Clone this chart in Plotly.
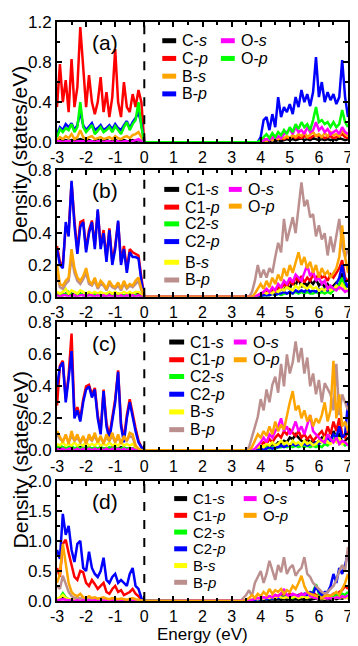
import plotly.graph_objects as go
from plotly.subplots import make_subplots

# energy grids (eV): valence side and conduction side
E_VAL = [-3.0, -2.9, -2.8, -2.7, -2.6, -2.5, -2.4, -2.3, -2.2, -2.1,
         -2.0, -1.9, -1.8, -1.7, -1.6, -1.5, -1.4, -1.3, -1.2, -1.1,
         -1.0, -0.9, -0.8, -0.7, -0.6, -0.5, -0.4, -0.3, -0.2, -0.1, 0.0]
E_COND = [3.3, 3.4, 3.5, 3.6, 3.7, 3.8, 3.9, 4.0, 4.1, 4.2,
          4.3, 4.4, 4.5, 4.6, 4.7, 4.8, 4.9, 5.0, 5.1, 5.2,
          5.3, 5.4, 5.5, 5.6, 5.7, 5.8, 5.9, 6.0, 6.1, 6.2,
          6.3, 6.4, 6.5, 6.6, 6.7, 6.8, 6.9, 7.0]

X_TICKS = [-3, -2, -1, 0, 1, 2, 3, 4, 5, 6, 7]
X_TICK_LABELS = ['-3', '-2', '-1', '0', '1', '2', '3', '4', '5', '6', '7']

# ---------------- panel (a) ----------------
A_CS_VAL = [0.01, 0.02, 0.01, 0.02, 0.01, 0.02, 0.01, 0.02, 0.03, 0.02,
            0.01, 0.02, 0.01, 0.01, 0.02, 0.01, 0.01, 0.02, 0.01, 0.01,
            0.02, 0.01, 0.01, 0.02, 0.01, 0.01, 0.02, 0.01, 0.02, 0.01, 0.0]
A_CS_COND = [0, 0, 0, 0, 0, 0, 0, 0.01, 0.01, 0.02,
             0.01, 0.02, 0.01, 0.02, 0.01, 0.02, 0.03, 0.02, 0.03, 0.02,
             0.03, 0.04, 0.02, 0.03, 0.02, 0.04, 0.03, 0.02, 0.03, 0.02,
             0.03, 0.02, 0.03, 0.02, 0.04, 0.03, 0.02, 0.03]
A_CP_VAL = [0.35, 0.78, 0.40, 0.62, 0.30, 0.83, 0.35, 0.55, 1.15, 0.70,
            0.35, 0.67, 0.40, 0.28, 0.40, 0.65, 0.30, 0.50, 0.25, 0.45,
            0.93, 0.40, 0.25, 0.60, 0.35, 0.30, 0.48, 0.35, 0.52, 0.40, 0.0]
A_CP_COND = [0, 0, 0, 0, 0, 0, 0, 0.02, 0.03, 0.02,
             0.04, 0.03, 0.05, 0.03, 0.04, 0.03, 0.05, 0.04, 0.06, 0.04,
             0.05, 0.04, 0.06, 0.05, 0.04, 0.06, 0.07, 0.05, 0.06, 0.04,
             0.05, 0.06, 0.04, 0.05, 0.06, 0.08, 0.05, 0.04]
A_BS_VAL = [0.02, 0.05, 0.03, 0.06, 0.04, 0.08, 0.03, 0.05, 0.12, 0.05,
            0.03, 0.05, 0.06, 0.03, 0.04, 0.05, 0.03, 0.04, 0.05, 0.03,
            0.06, 0.04, 0.03, 0.05, 0.06, 0.04, 0.07, 0.08, 0.10, 0.05, 0.0]
A_BS_COND = [0, 0, 0, 0, 0, 0, 0, 0.01, 0.02, 0.01,
             0.03, 0.02, 0.04, 0.03, 0.05, 0.04, 0.06, 0.04, 0.07, 0.05,
             0.08, 0.06, 0.10, 0.05, 0.08, 0.10, 0.06, 0.08, 0.05, 0.09,
             0.06, 0.10, 0.07, 0.08, 0.06, 0.12, 0.08, 0.06]
A_BP_VAL = [0.08, 0.15, 0.12, 0.18, 0.15, 0.19, 0.12, 0.17, 0.30, 0.17,
            0.12, 0.16, 0.19, 0.12, 0.14, 0.17, 0.12, 0.14, 0.17, 0.13,
            0.18, 0.14, 0.12, 0.17, 0.21, 0.14, 0.20, 0.24, 0.30, 0.18, 0.0]
A_BP_COND = [0, 0, 0, 0, 0, 0, 0, 0.05, 0.22, 0.25,
             0.12, 0.28, 0.15, 0.45, 0.25, 0.35, 0.30, 0.38, 0.28, 0.45,
             0.35, 0.52, 0.40, 0.48, 0.36, 0.50, 0.85, 0.45, 0.60, 0.40,
             0.50, 0.42, 0.48, 0.38, 0.45, 0.82, 0.45, 0.25]
A_OS_VAL = [0.01, 0.01, 0.0, 0.01, 0.01, 0.01, 0.0, 0.01, 0.01, 0.01,
            0.0, 0.01, 0.01, 0.0, 0.01, 0.01, 0.0, 0.01, 0.01, 0.0,
            0.01, 0.01, 0.0, 0.01, 0.01, 0.0, 0.01, 0.02, 0.03, 0.01, 0.0]
A_OS_COND = [0, 0, 0, 0, 0, 0, 0, 0.0, 0.02, 0.03,
             0.02, 0.05, 0.03, 0.06, 0.04, 0.08, 0.10, 0.13, 0.08, 0.15,
             0.10, 0.12, 0.08, 0.15, 0.10, 0.12, 0.20, 0.12, 0.15, 0.10,
             0.13, 0.08, 0.10, 0.12, 0.08, 0.15, 0.10, 0.08]
A_OP_VAL = [0.05, 0.13, 0.10, 0.14, 0.12, 0.18, 0.10, 0.15, 0.40, 0.15,
            0.10, 0.13, 0.17, 0.08, 0.12, 0.15, 0.10, 0.12, 0.15, 0.10,
            0.16, 0.12, 0.08, 0.15, 0.20, 0.12, 0.18, 0.22, 0.40, 0.15, 0.0]
A_OP_COND = [0, 0, 0, 0, 0, 0, 0, 0.02, 0.05, 0.08,
             0.04, 0.09, 0.05, 0.10, 0.07, 0.12, 0.08, 0.15, 0.10, 0.18,
             0.13, 0.20, 0.15, 0.18, 0.12, 0.22, 0.35, 0.20, 0.22, 0.18,
             0.20, 0.15, 0.20, 0.15, 0.18, 0.32, 0.20, 0.15]

# ---------------- panel (b) ----------------
B_C1S_VAL = [0.02, 0.01, 0.01, 0.02, 0.01, 0.02, 0.01, 0.01, 0.02, 0.01,
             0.01, 0.02, 0.01, 0.01, 0.02, 0.01, 0.01, 0.01, 0.02, 0.01,
             0.01, 0.02, 0.01, 0.01, 0.01, 0.02, 0.01, 0.01, 0.02, 0.01, 0.0]
B_C1S_COND = [0, 0, 0, 0, 0, 0, 0, 0.01, 0.02, 0.01,
              0.03, 0.02, 0.04, 0.03, 0.05, 0.04, 0.07, 0.05, 0.10, 0.07,
              0.12, 0.06, 0.09, 0.07, 0.10, 0.08, 0.11, 0.07, 0.09, 0.06,
              0.08, 0.05, 0.07, 0.09, 0.06, 0.15, 0.08, 0.06]
B_C1P_VAL = [0.32, 0.22, 0.20, 0.44, 0.41, 0.72, 0.48, 0.29, 0.47, 0.48,
             0.30, 0.42, 0.48, 0.32, 0.54, 0.32, 0.42, 0.24, 0.43, 0.22,
             0.32, 0.47, 0.22, 0.32, 0.17, 0.30, 0.28, 0.27, 0.26, 0.12, 0.0]
B_C1P_COND = [0, 0, 0, 0, 0, 0, 0, 0.01, 0.02, 0.03,
              0.02, 0.05, 0.03, 0.06, 0.05, 0.08, 0.06, 0.10, 0.08, 0.12,
              0.10, 0.13, 0.09, 0.12, 0.10, 0.14, 0.11, 0.15, 0.12, 0.13,
              0.10, 0.14, 0.12, 0.15, 0.18, 0.23, 0.12, 0.10]
B_C2S_VAL = [0.01, 0.01, 0.02, 0.01, 0.03, 0.01, 0.01, 0.01, 0.02, 0.01,
             0.01, 0.01, 0.01, 0.02, 0.01, 0.01, 0.01, 0.01, 0.01, 0.01,
             0.01, 0.01, 0.01, 0.01, 0.01, 0.01, 0.01, 0.01, 0.01, 0.0, 0.0]
B_C2S_COND = [0, 0, 0, 0, 0, 0, 0, 0.0, 0.01, 0.01,
              0.01, 0.02, 0.01, 0.02, 0.01, 0.02, 0.02, 0.03, 0.02, 0.03,
              0.02, 0.03, 0.02, 0.03, 0.02, 0.02, 0.03, 0.02, 0.03, 0.02,
              0.03, 0.02, 0.04, 0.05, 0.08, 0.12, 0.05, 0.03]
B_C2P_VAL = [0.30, 0.20, 0.18, 0.47, 0.38, 0.73, 0.45, 0.27, 0.44, 0.47,
             0.28, 0.40, 0.47, 0.30, 0.55, 0.30, 0.40, 0.22, 0.42, 0.20,
             0.30, 0.48, 0.20, 0.30, 0.15, 0.28, 0.25, 0.25, 0.24, 0.10, 0.0]
B_C2P_COND = [0, 0, 0, 0, 0, 0, 0, 0.0, 0.01, 0.01,
              0.01, 0.02, 0.01, 0.02, 0.02, 0.03, 0.02, 0.03, 0.02, 0.04,
              0.03, 0.04, 0.03, 0.05, 0.03, 0.04, 0.03, 0.05, 0.04, 0.05,
              0.04, 0.06, 0.05, 0.08, 0.12, 0.20, 0.10, 0.06]
B_BS_VAL = [0.03, 0.02, 0.03, 0.05, 0.02, 0.04, 0.03, 0.02, 0.04, 0.03,
            0.02, 0.03, 0.02, 0.03, 0.02, 0.03, 0.02, 0.02, 0.03, 0.02,
            0.03, 0.02, 0.02, 0.03, 0.02, 0.03, 0.02, 0.03, 0.03, 0.02, 0.0]
B_BS_COND = [0, 0, 0, 0, 0, 0, 0.01, 0.02, 0.03, 0.02,
             0.03, 0.02, 0.04, 0.03, 0.05, 0.04, 0.06, 0.05, 0.04, 0.07,
             0.05, 0.08, 0.06, 0.05, 0.07, 0.05, 0.06, 0.04, 0.05, 0.04,
             0.06, 0.04, 0.05, 0.07, 0.05, 0.08, 0.05, 0.04]
B_BP_VAL = [0.15, 0.06, 0.05, 0.08, 0.10, 0.25, 0.15, 0.10, 0.08, 0.11,
            0.15, 0.08, 0.07, 0.10, 0.05, 0.08, 0.07, 0.04, 0.08, 0.06,
            0.05, 0.07, 0.04, 0.08, 0.05, 0.07, 0.06, 0.08, 0.10, 0.04, 0.0]
B_BP_COND = [0, 0, 0, 0, 0.03, 0.10, 0.20, 0.12, 0.17, 0.12,
             0.18, 0.15, 0.25, 0.34, 0.28, 0.49, 0.35, 0.42, 0.50, 0.40,
             0.55, 0.72, 0.57, 0.61, 0.50, 0.52, 0.38, 0.45, 0.36, 0.40,
             0.26, 0.38, 0.28, 0.40, 0.49, 0.32, 0.25, 0.30]
B_OS_VAL = [0.01, 0.0, 0.01, 0.01, 0.0, 0.01, 0.01, 0.0, 0.01, 0.01,
            0.0, 0.01, 0.01, 0.0, 0.01, 0.0, 0.01, 0.0, 0.01, 0.0,
            0.01, 0.0, 0.01, 0.0, 0.01, 0.0, 0.01, 0.0, 0.01, 0.0, 0.0]
B_OS_COND = [0, 0, 0, 0, 0, 0, 0.01, 0.02, 0.03, 0.05,
             0.03, 0.06, 0.04, 0.08, 0.06, 0.10, 0.08, 0.12, 0.09, 0.14,
             0.12, 0.10, 0.15, 0.20, 0.13, 0.16, 0.10, 0.12, 0.08, 0.10,
             0.05, 0.07, 0.05, 0.04, 0.06, 0.05, 0.03, 0.04]
B_OP_VAL = [0.20, 0.08, 0.07, 0.10, 0.12, 0.30, 0.18, 0.12, 0.10, 0.13,
            0.18, 0.10, 0.08, 0.12, 0.06, 0.10, 0.08, 0.05, 0.10, 0.07,
            0.06, 0.09, 0.05, 0.10, 0.06, 0.08, 0.07, 0.10, 0.12, 0.05, 0.0]
B_OP_COND = [0, 0, 0, 0, 0, 0.02, 0.05, 0.08, 0.05, 0.10,
             0.06, 0.12, 0.08, 0.14, 0.10, 0.18, 0.13, 0.20, 0.15, 0.22,
             0.28, 0.20, 0.25, 0.18, 0.22, 0.15, 0.20, 0.12, 0.18, 0.14,
             0.16, 0.12, 0.15, 0.18, 0.25, 0.45, 0.25, 0.15]

# ---------------- panel (c) ----------------
C_C1S_VAL = [0.02, 0.01, 0.02, 0.01, 0.01, 0.02, 0.01, 0.01, 0.02, 0.01,
             0.01, 0.02, 0.01, 0.01, 0.01, 0.02, 0.01, 0.01, 0.01, 0.02,
             0.01, 0.01, 0.02, 0.01, 0.01, 0.01, 0.01, 0.01, 0.0, 0.0, 0.0]
C_C1S_COND = [0, 0, 0, 0, 0, 0, 0, 0.01, 0.02, 0.03,
              0.02, 0.04, 0.03, 0.05, 0.04, 0.06, 0.05, 0.08, 0.07, 0.10,
              0.08, 0.06, 0.05, 0.07, 0.05, 0.06, 0.04, 0.06, 0.08, 0.05,
              0.10, 0.06, 0.12, 0.08, 0.10, 0.05, 0.06, 0.08]
C_C1P_VAL = [0.28, 0.53, 0.56, 0.32, 0.47, 0.73, 0.22, 0.27, 0.20, 0.32,
             0.40, 0.41, 0.35, 0.39, 0.22, 0.12, 0.38, 0.17, 0.09, 0.22,
             0.32, 0.50, 0.17, 0.07, 0.22, 0.32, 0.22, 0.14, 0.06, 0.02, 0.0]
C_C1P_COND = [0, 0, 0, 0, 0, 0, 0.01, 0.03, 0.05, 0.04,
              0.07, 0.05, 0.08, 0.10, 0.08, 0.12, 0.10, 0.13, 0.11, 0.09,
              0.12, 0.08, 0.10, 0.07, 0.09, 0.06, 0.08, 0.10, 0.12, 0.08,
              0.15, 0.10, 0.18, 0.12, 0.20, 0.10, 0.08, 0.12]
C_C2S_VAL = [0.02, 0.03, 0.02, 0.01, 0.02, 0.03, 0.01, 0.02, 0.01, 0.02,
             0.01, 0.02, 0.01, 0.02, 0.01, 0.02, 0.01, 0.01, 0.02, 0.01,
             0.02, 0.01, 0.01, 0.02, 0.01, 0.01, 0.01, 0.01, 0.0, 0.0, 0.0]
C_C2S_COND = [0, 0, 0, 0, 0, 0, 0, 0.01, 0.01, 0.02,
              0.01, 0.02, 0.01, 0.02, 0.02, 0.03, 0.02, 0.03, 0.02, 0.03,
              0.02, 0.03, 0.02, 0.03, 0.02, 0.03, 0.02, 0.03, 0.02, 0.04,
              0.03, 0.05, 0.06, 0.10, 0.04, 0.05, 0.03, 0.04]
C_C2P_VAL = [0.40, 0.52, 0.55, 0.30, 0.45, 0.62, 0.20, 0.25, 0.18, 0.30,
             0.38, 0.40, 0.33, 0.38, 0.20, 0.10, 0.37, 0.15, 0.07, 0.20,
             0.30, 0.49, 0.15, 0.05, 0.20, 0.30, 0.20, 0.12, 0.05, 0.02, 0.0]
C_C2P_COND = [0, 0, 0, 0, 0, 0, 0, 0, 0.01, 0.01,
              0.02, 0.01, 0.02, 0.02, 0.03, 0.02, 0.03, 0.03, 0.04, 0.03,
              0.04, 0.03, 0.04, 0.03, 0.04, 0.03, 0.05, 0.04, 0.06, 0.05,
              0.08, 0.06, 0.10, 0.08, 0.15, 0.08, 0.10, 0.30]
C_BS_VAL = [0.04, 0.03, 0.05, 0.03, 0.04, 0.03, 0.05, 0.03, 0.04, 0.03,
            0.05, 0.03, 0.04, 0.03, 0.05, 0.03, 0.04, 0.03, 0.05, 0.03,
            0.04, 0.03, 0.05, 0.03, 0.04, 0.03, 0.04, 0.02, 0.01, 0.0, 0.0]
C_BS_COND = [0, 0, 0, 0, 0, 0.01, 0.02, 0.03, 0.02, 0.04,
             0.03, 0.05, 0.03, 0.04, 0.06, 0.04, 0.05, 0.03, 0.06, 0.04,
             0.05, 0.03, 0.06, 0.04, 0.05, 0.03, 0.04, 0.06, 0.05, 0.08,
             0.05, 0.04, 0.06, 0.05, 0.08, 0.04, 0.05, 0.04]
C_BP_VAL = [0.10, 0.07, 0.06, 0.09, 0.05, 0.09, 0.06, 0.08, 0.05, 0.08,
            0.05, 0.08, 0.06, 0.09, 0.05, 0.08, 0.05, 0.08, 0.06, 0.09,
            0.05, 0.08, 0.05, 0.08, 0.06, 0.09, 0.08, 0.03, 0.01, 0.0, 0.0]
C_BP_COND = [0, 0, 0, 0.02, 0.08, 0.15, 0.21, 0.32, 0.25, 0.38,
             0.30, 0.41, 0.46, 0.36, 0.54, 0.40, 0.60, 0.48, 0.55, 0.68,
             0.55, 0.64, 0.48, 0.58, 0.40, 0.48, 0.35, 0.44, 0.30, 0.42,
             0.38, 0.35, 0.25, 0.54, 0.22, 0.35, 0.30, 0.25]
C_OS_VAL = [0.01, 0.0, 0.01, 0.0, 0.01, 0.01, 0.0, 0.01, 0.0, 0.01,
            0.0, 0.01, 0.0, 0.01, 0.0, 0.01, 0.0, 0.01, 0.0, 0.01,
            0.0, 0.01, 0.0, 0.01, 0.0, 0.01, 0.01, 0.0, 0.0, 0.0, 0.0]
C_OS_COND = [0, 0, 0, 0, 0, 0.01, 0.03, 0.05, 0.08, 0.05,
             0.10, 0.08, 0.12, 0.15, 0.20, 0.12, 0.15, 0.10, 0.13, 0.18,
             0.12, 0.15, 0.10, 0.16, 0.22, 0.12, 0.10, 0.08, 0.06, 0.05,
             0.10, 0.07, 0.05, 0.08, 0.04, 0.06, 0.05, 0.03]
C_OP_VAL = [0.12, 0.08, 0.05, 0.10, 0.04, 0.12, 0.06, 0.10, 0.05, 0.09,
            0.04, 0.10, 0.06, 0.11, 0.05, 0.09, 0.04, 0.10, 0.06, 0.11,
            0.05, 0.10, 0.04, 0.09, 0.06, 0.11, 0.10, 0.03, 0.01, 0.0, 0.0]
C_OP_COND = [0, 0, 0, 0, 0.02, 0.06, 0.10, 0.08, 0.12, 0.09,
             0.15, 0.10, 0.18, 0.12, 0.16, 0.13, 0.22, 0.30, 0.37, 0.25,
             0.28, 0.20, 0.25, 0.18, 0.22, 0.15, 0.20, 0.17, 0.22, 0.30,
             0.18, 0.25, 0.56, 0.20, 0.35, 0.15, 0.18, 0.12]

# ---------------- panel (d) ----------------
D_C1S_VAL = [0.02, 0.03, 0.05, 0.03, 0.02, 0.01, 0.01, 0.01, 0.01, 0.01,
             0.01, 0.01, 0.01, 0.01, 0.01, 0.01, 0.01, 0.01, 0.01, 0.01,
             0.01, 0.01, 0.01, 0.01, 0.01, 0.01, 0.01, 0.01, 0.0, 0.0, 0.0]
D_C1S_COND = [0, 0, 0, 0, 0.01, 0.01, 0.02, 0.01, 0.02, 0.01,
              0.02, 0.03, 0.02, 0.03, 0.02, 0.03, 0.02, 0.03, 0.02, 0.03,
              0.02, 0.03, 0.02, 0.03, 0.02, 0.03, 0.04, 0.02, 0.03, 0.02,
              0.03, 0.02, 0.04, 0.03, 0.05, 0.04, 0.06, 0.05]
D_C1P_VAL = [0.55, 0.40, 0.95, 1.02, 0.80, 0.60, 0.40, 0.35, 0.50, 0.48,
             0.30, 0.25, 0.35, 0.28, 0.20, 0.25, 0.30, 0.15, 0.12, 0.20,
             0.25, 0.15, 0.18, 0.10, 0.12, 0.15, 0.20, 0.12, 0.08, 0.02, 0.0]
D_C1P_COND = [0, 0, 0, 0.01, 0.02, 0.03, 0.05, 0.04, 0.06, 0.05,
              0.08, 0.06, 0.10, 0.08, 0.12, 0.10, 0.08, 0.12, 0.10, 0.08,
              0.10, 0.12, 0.08, 0.10, 0.12, 0.15, 0.10, 0.08, 0.10, 0.08,
              0.10, 0.08, 0.12, 0.10, 0.15, 0.18, 0.25, 0.20]
D_C2S_VAL = [0.03, 0.05, 0.13, 0.06, 0.03, 0.02, 0.01, 0.02, 0.01, 0.01,
             0.01, 0.01, 0.01, 0.01, 0.01, 0.01, 0.01, 0.01, 0.01, 0.01,
             0.01, 0.01, 0.01, 0.01, 0.01, 0.01, 0.01, 0.01, 0.0, 0.0, 0.0]
D_C2S_COND = [0, 0, 0, 0, 0.01, 0.02, 0.03, 0.02, 0.04, 0.03,
              0.05, 0.04, 0.06, 0.05, 0.08, 0.06, 0.10, 0.07, 0.05, 0.08,
              0.06, 0.10, 0.08, 0.12, 0.10, 0.15, 0.28, 0.12, 0.08, 0.06,
              0.05, 0.08, 0.06, 0.10, 0.08, 0.12, 0.10, 0.15]
D_C2P_VAL = [0.85, 0.70, 1.45, 1.10, 1.25, 0.85, 0.65, 0.95, 1.00, 0.55,
             0.50, 0.82, 0.55, 0.45, 0.40, 0.50, 0.72, 0.35, 0.30, 0.40,
             0.45, 0.30, 0.35, 0.30, 0.25, 0.45, 0.55, 0.25, 0.20, 0.05, 0.0]
D_C2P_COND = [0, 0, 0, 0, 0.01, 0.02, 0.03, 0.02, 0.04, 0.03,
              0.05, 0.04, 0.06, 0.05, 0.07, 0.06, 0.08, 0.06, 0.10, 0.08,
              0.10, 0.08, 0.12, 0.10, 0.15, 0.12, 0.25, 0.15, 0.10, 0.15,
              0.15, 0.25, 0.45, 0.30, 0.55, 0.45, 0.60, 0.80]
D_BS_VAL = [0.04, 0.06, 0.10, 0.05, 0.03, 0.02, 0.03, 0.02, 0.03, 0.02,
            0.02, 0.03, 0.02, 0.02, 0.03, 0.02, 0.02, 0.03, 0.02, 0.02,
            0.02, 0.02, 0.02, 0.02, 0.02, 0.02, 0.02, 0.01, 0.01, 0.0, 0.0]
D_BS_COND = [0, 0, 0.01, 0.02, 0.03, 0.04, 0.03, 0.05, 0.04, 0.06,
             0.05, 0.07, 0.05, 0.08, 0.06, 0.05, 0.07, 0.05, 0.06, 0.08,
             0.05, 0.07, 0.06, 0.05, 0.08, 0.06, 0.05, 0.04, 0.05, 0.04,
             0.06, 0.05, 0.04, 0.06, 0.05, 0.07, 0.05, 0.06]
D_BP_VAL = [0.25, 0.20, 0.42, 0.30, 0.15, 0.08, 0.05, 0.04, 0.05, 0.03,
            0.03, 0.04, 0.03, 0.02, 0.03, 0.02, 0.03, 0.02, 0.02, 0.02,
            0.02, 0.02, 0.02, 0.02, 0.02, 0.02, 0.02, 0.01, 0.01, 0.0, 0.0]
D_BP_COND = [0, 0.05, 0.10, 0.18, 0.08, 0.30, 0.40, 0.50, 0.30, 0.45,
             0.67, 0.50, 0.35, 0.60, 0.48, 0.73, 0.45, 0.55, 0.60, 0.42,
             0.50, 0.55, 0.73, 0.45, 0.40, 0.30, 0.25, 0.20, 0.15, 0.12,
             0.15, 0.20, 0.25, 0.35, 0.50, 0.60, 0.50, 0.90]
D_OS_VAL = [0.01, 0.02, 0.03, 0.02, 0.01, 0.01, 0.0, 0.01, 0.0, 0.01,
            0.0, 0.01, 0.0, 0.01, 0.0, 0.01, 0.0, 0.01, 0.0, 0.01,
            0.0, 0.01, 0.0, 0.01, 0.0, 0.01, 0.0, 0.0, 0.0, 0.0, 0.0]
D_OS_COND = [0, 0, 0, 0.01, 0.02, 0.03, 0.05, 0.04, 0.06, 0.05,
             0.08, 0.06, 0.10, 0.08, 0.12, 0.20, 0.10, 0.08, 0.12, 0.10,
             0.08, 0.12, 0.10, 0.15, 0.08, 0.06, 0.05, 0.04, 0.06, 0.05,
             0.04, 0.05, 0.04, 0.06, 0.05, 0.08, 0.06, 0.10]
D_OP_VAL = [0.30, 0.45, 0.95, 0.60, 0.30, 0.15, 0.10, 0.08, 0.12, 0.06,
            0.05, 0.08, 0.05, 0.06, 0.04, 0.05, 0.06, 0.04, 0.03, 0.05,
            0.04, 0.03, 0.04, 0.03, 0.02, 0.04, 0.05, 0.03, 0.02, 0.01, 0.0]
D_OP_COND = [0, 0, 0.02, 0.05, 0.10, 0.05, 0.12, 0.08, 0.15, 0.10,
             0.20, 0.12, 0.18, 0.15, 0.20, 0.12, 0.18, 0.15, 0.25, 0.20,
             0.30, 0.42, 0.25, 0.15, 0.12, 0.10, 0.08, 0.06, 0.05, 0.08,
             0.10, 0.08, 0.12, 0.15, 0.10, 0.20, 0.30, 0.45]

BLACK, RED, GREEN, BLUE = '#000000', '#ff0000', '#00ff00', '#0000ff'
ORANGE, YELLOW, BROWN, MAGENTA = '#ffa500', '#ffff00', '#bc8f8f', '#ff00ff'

# (label, color, valence, conduction) in drawing order
SERIES_A = [('C-<i>s</i>', BLACK, A_CS_VAL, A_CS_COND),
            ('C-<i>p</i>', RED, A_CP_VAL, A_CP_COND),
            ('B-<i>s</i>', ORANGE, A_BS_VAL, A_BS_COND),
            ('B-<i>p</i>', BLUE, A_BP_VAL, A_BP_COND),
            ('O-<i>s</i>', MAGENTA, A_OS_VAL, A_OS_COND),
            ('O-<i>p</i>', GREEN, A_OP_VAL, A_OP_COND)]


def eight(c1s, c1p, c2s, c2p, bs, bp, os_, op):
    return [('C1-<i>s</i>', BLACK) + c1s, ('C1-<i>p</i>', RED) + c1p,
            ('C2-<i>s</i>', GREEN) + c2s, ('C2-<i>p</i>', BLUE) + c2p,
            ('B-<i>s</i>', YELLOW) + bs, ('B-<i>p</i>', BROWN) + bp,
            ('O-<i>s</i>', MAGENTA) + os_, ('O-<i>p</i>', ORANGE) + op]


SERIES_B = eight((B_C1S_VAL, B_C1S_COND), (B_C1P_VAL, B_C1P_COND), (B_C2S_VAL, B_C2S_COND),
                 (B_C2P_VAL, B_C2P_COND), (B_BS_VAL, B_BS_COND), (B_BP_VAL, B_BP_COND),
                 (B_OS_VAL, B_OS_COND), (B_OP_VAL, B_OP_COND))
SERIES_C = eight((C_C1S_VAL, C_C1S_COND), (C_C1P_VAL, C_C1P_COND), (C_C2S_VAL, C_C2S_COND),
                 (C_C2P_VAL, C_C2P_COND), (C_BS_VAL, C_BS_COND), (C_BP_VAL, C_BP_COND),
                 (C_OS_VAL, C_OS_COND), (C_OP_VAL, C_OP_COND))
SERIES_D = eight((D_C1S_VAL, D_C1S_COND), (D_C1P_VAL, D_C1P_COND), (D_C2S_VAL, D_C2S_COND),
                 (D_C2P_VAL, D_C2P_COND), (D_BS_VAL, D_BS_COND), (D_BP_VAL, D_BP_COND),
                 (D_OS_VAL, D_OS_COND), (D_OP_VAL, D_OP_COND))

# the page body has an 8px margin, so the figure is 8px smaller and
# all positions below are given in screenshot pixels (plot box x 57..350)
OFF = 8
W, H = 358 - OFF, 646 - OFF
L, R, T, B = 57 - OFF, 8, 5, 45


def px(x):
    return (x - OFF - L) / (W - L - R)


def py(y):
    return (H - B - (y - OFF)) / (H - T - B)


PANELS = [
    dict(series=SERIES_A, tag='(a)', top=13, bot=135, ymax=1.2, dtick=0.4, minor=0.2, fs=16,
         col1=(163, 177, 181, [32, 50, 68, 86]), col2=(222, 236, 240, [32, 50])),
    dict(series=SERIES_B, tag='(b)', top=163, bot=292, ymax=0.8, dtick=0.2, minor=0.1, fs=16,
         col1=(165, 180, 184, [183, 201, 218, 236, 257, 275]), col2=(230, 243, 247, [183, 200])),
    dict(series=SERIES_C, tag='(c)', top=318, bot=448, ymax=0.8, dtick=0.2, minor=0.1, fs=16,
         col1=(170, 185, 189, [338, 356, 373, 391, 409, 427]), col2=(235, 248, 252, [338, 356])),
    dict(series=SERIES_D, tag='(d)', top=479, bot=601, ymax=2.0, dtick=0.5, minor=0.25, fs=15,
         col1=(175, 188, 192, [497, 514, 531, 548, 565, 582]), col2=(245, 258, 262, [497, 514])),
]

FONT = 'Arial, Liberation Sans, sans-serif'

fig = make_subplots(rows=4, cols=1)
shapes, annotations = [], []

for i, p in enumerate(PANELS):
    row = i + 1
    for label, color, val, cond in p['series']:
        assert len(val) == len(E_VAL) and len(cond) == len(E_COND), label
        fig.add_trace(go.Scatter(x=E_VAL + E_COND, y=val + cond, mode='lines',
                                 line=dict(color=color, width=2.5),
                                 showlegend=False, hoverinfo='skip'), row=row, col=1)
    sfx = '' if row == 1 else str(row)
    fig.layout['yaxis' + sfx].domain = [max(0, py(p['bot'])), min(1, py(p['top']))]
    fig.update_yaxes(range=[0, p['ymax']], dtick=p['dtick'], tick0=0, tickformat='.1f',
                     minor=dict(dtick=p['minor'], ticks='inside', ticklen=3, tickcolor='black'),
                     row=row, col=1)
    shapes.append(dict(type='line', xref='x' + sfx, yref='y' + sfx + ' domain',
                       x0=0, x1=0, y0=0, y1=1,
                       line=dict(color='black', width=2, dash='dash')))
    annotations.append(dict(text=p['tag'], xref='paper', yref='paper',
                            x=px(105), y=py(max(p['top'] + 21, 30)), xanchor='center', yanchor='middle',
                            showarrow=False, font=dict(size=21, color='black', family=FONT)))
    labels = [s[0] for s in p['series']]
    colors = [s[1] for s in p['series']]
    n1 = len(p['col1'][3])
    for (x0, x1, xt, rows), labs, cols in ((p['col1'], labels[:n1], colors[:n1]),
                                         (p['col2'], labels[n1:], colors[n1:])):
        for y, lab, c in zip(rows, labs, cols):
            shapes.append(dict(type='line', xref='paper', yref='paper',
                               x0=px(x0), x1=px(x1), y0=py(y), y1=py(y),
                               line=dict(color=c, width=5)))
            annotations.append(dict(text=lab, xref='paper', yref='paper', x=px(xt), y=py(y),
                                    xanchor='left', yanchor='middle', showarrow=False,
                                    font=dict(size=p['fs'], color='black', family=FONT)))

fig.update_xaxes(range=[-3, 7], tickvals=X_TICKS, ticktext=X_TICK_LABELS,
                 minor=dict(dtick=0.5, ticks='inside', ticklen=3, tickcolor='black'))
fig.update_xaxes(domain=[0, 1])
fig.update_xaxes(showline=True, linecolor='black', linewidth=2, mirror='ticks',
                 ticks='inside', ticklen=5, tickwidth=1.5, tickcolor='black',
                 showgrid=False, zeroline=False, ticklabeloverflow='allow',
                 tickfont=dict(size=16, color='black', family=FONT))
fig.update_yaxes(showline=True, linecolor='black', linewidth=2, mirror='ticks',
                 ticks='inside', ticklen=5, tickwidth=1.5, tickcolor='black',
                 showgrid=False, zeroline=False, ticklabeloverflow='allow',
                 tickfont=dict(size=17, color='black', family=FONT))

for yc in (148, 458):
    annotations.append(dict(text='Density (states/eV)', textangle=-90, xref='paper', yref='paper',
                            x=px(20), y=py(yc), xanchor='center', yanchor='middle',
                            showarrow=False, font=dict(size=21, color='black', family=FONT)))
annotations.append(dict(text='Energy (eV)', xref='paper', yref='paper', x=px(203), y=py(635),
                        xanchor='center', yanchor='middle',
                        showarrow=False, font=dict(size=17, color='black', family=FONT)))

fig.update_layout(width=W, height=H, margin=dict(l=L, r=R, t=T, b=B),
                  paper_bgcolor='white', plot_bgcolor='white',
                  font=dict(family=FONT, color='black'),
                  shapes=shapes, annotations=annotations, showlegend=False)

fig.write_html("out.html")
